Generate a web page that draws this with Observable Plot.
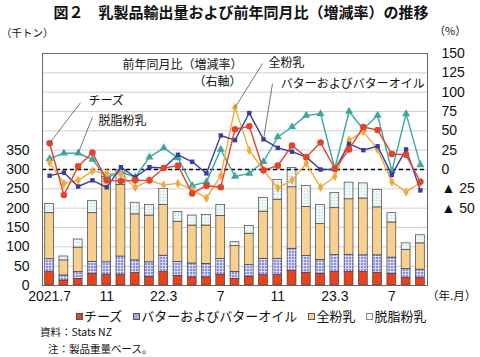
<!DOCTYPE html>
<html lang="ja"><head><meta charset="utf-8">
<script src="https://cdn.jsdelivr.net/npm/d3@7"></script>
<script src="https://cdn.jsdelivr.net/npm/@observablehq/plot@0.6"></script>
<style>
html,body{margin:0;padding:0;background:#fff;}
#wrap{position:relative;width:480px;height:357px;overflow:hidden;font-family:"Noto Sans CJK JP","Noto Sans",sans-serif;color:#111;}
.abs{position:absolute;white-space:nowrap;}
#title{left:0;width:482px;top:3px;text-align:center;font-weight:bold;font-size:15px;line-height:18px;}
#unitL{left:1px;top:26px;font-size:10.5px;line-height:14px;}
#unitR{left:434px;top:23px;font-size:11px;line-height:14px;}
#chart{left:0;top:22px;}
#ym{left:427px;top:288px;font-size:11.5px;line-height:14px;}
#legend{left:76px;top:307px;font-size:13px;line-height:18px;display:flex;align-items:center;}
.item{display:flex;align-items:center;margin-right:11px;}
.sw{display:inline-block;width:5px;height:5px;border:1px solid #555;margin-right:1px;}
#note1{left:40px;top:325px;font-size:10.5px;line-height:14px;}
#note2{left:48px;top:342px;font-size:10.5px;line-height:14px;}
</style>
</head><body>
<div id="wrap">
  <div id="title" class="abs">図２　乳製品輸出量および前年同月比（増減率）の推移</div>
  <div id="unitL" class="abs">（千トン）</div>
  <div id="unitR" class="abs">（%）</div>
  <div id="chart" class="abs"></div>
  <div id="ym" class="abs">（年.月）</div>
  <div id="legend" class="abs">
    <span class="item"><span class="sw" style="background:#e8431d"></span>チーズ</span>
    <span class="item"><span class="sw" style="background:#a3a7e8"></span>バターおよびバターオイル</span>
    <span class="item"><span class="sw" style="background:#f7d08f"></span>全粉乳</span>
    <span class="item"><span class="sw" style="background:#eef8f8;border-color:#888"></span>脱脂粉乳</span>
  </div>
  <div id="note1" class="abs">資料：Stats NZ</div>
  <div id="note2" class="abs">注：製品重量ベース。</div>
</div>
<script>
// ---- data ----
const months = ["2021.7","2021.8","2021.9","2021.10","2021.11","2021.12",
  "2022.1","2022.2","2022.3","2022.4","2022.5","2022.6","2022.7","2022.8","2022.9","2022.10","2022.11","2022.12",
  "2023.1","2023.2","2023.3","2023.4","2023.5","2023.6","2023.7","2023.8","2023.9"];
const tickMonths = ["2021.7","2021.11","2022.3","2022.7","2022.11","2023.3","2023.7"];
const xTickLabels = ["2021.7","11","22.3","7","11","23.3","7"];

// export volume (thousand tonnes)
const cheese = [35,13,17,30,28,28,32,22,35,25,21,21,28,17,23,27,27,38,33,30,35,35,35,33,30,20,20];
const butter = [33,13,18,31,32,47,33,38,42,36,36,35,41,18,30,42,42,57,43,36,44,44,43,45,42,23,21];
const wmp    = [119,39,63,126,220,185,119,121,131,104,98,99,111,67,81,122,153,159,127,93,121,144,147,124,91,49,68];
const smp    = [24,10,21,31,8,38,30,27,42,25,26,27,28,10,20,35,51,50,54,49,39,43,39,45,24,17,21];

// year-on-year change (%), right axis
const cheeseYoY = [34,-33,4,22,-14,-15,-14,-14,2,5,-31,-21,-23,52,56,-1,5,31,16,35,1,26,55,51,20,19,-16];
const butterYoY = [-8,-4,-22,-14,-23,3,-10,3,2,19,10,-5,44,38,73,39,28,23,16,0,0,33,25,30,-7,26,-27];
const wmpYoY    = [9,-18,-14,-2,-5,-6,-23,-14,-20,-18,-26,-37,-8,80,25,-1,-24,-14,8,-23,-9,38,49,26,-16,-29,-17];
const smpYoY    = [14,21,21,13,-10,-3,-10,16,28,15,-21,-16,26,-9,-5,10,42,55,70,72,1,75,52,70,-2,72,6];

const leftTicks = [0,50,100,150,200,250,300,350];
const rightTickValues = [-50,-25,0,25,50,75,100,125,150];
const rightTickLabels = ["▲ 50","▲ 25","0","25","50","75","100","125","150"];

// ---- chart ----
const idx = months.map((m, i) => i);
const toL = v => 300 + 2 * v;        // right-axis % -> left-axis units
const gridVals = d3.range(50, 600, 50);

const stackSeries = [
  {vals: cheese, fill: "#e8431d"},
  {vals: butter, fill: "url(#butterPat)"},
  {vals: wmp,    fill: "#f7d08f"},
  {vals: smp,    fill: "url(#smpPat)"}
];
const base = idx.map(() => 0);
const barMarks = stackSeries.map(s => {
  const rows = idx.map(i => ({i, y1: base[i], y2: base[i] + s.vals[i]}));
  rows.forEach(r => { base[r.i] = r.y2; });
  return Plot.rect(rows, {x1: d => d.i - 0.31, x2: d => d.i + 0.31, y1: "y1", y2: "y2",
    fill: s.fill, stroke: "#404040", strokeWidth: 0.7});
});

const lineSeries = [
  {vals: smpYoY,    color: "#3aa8a2", symbol: "triangle", r: 3.0},
  {vals: wmpYoY,    color: "#f2a93c", symbol: "diamond",  r: 2.9},
  {vals: butterYoY, color: "#393e9e", symbol: "square",   r: 2.5},
  {vals: cheeseYoY, color: "#e2432b", symbol: "circle",   r: 3.3}
];
const lineMarks = lineSeries.flatMap(s => [
  Plot.line(idx, {x: i => i, y: i => toL(s.vals[i]), stroke: s.color, strokeWidth: 1.4}),
  Plot.dot(idx, {x: i => i, y: i => toL(s.vals[i]), fill: s.color, symbol: s.symbol, r: s.r, stroke: "none"})
]);

const jp = "'Noto Sans CJK JP', sans-serif";
const annotations = [
  {text: "前年同月比（増減率）", x: 9.32, y: 569, anchor: "middle"},
  {text: "（右軸）", x: 11.77, y: 527, anchor: "middle"},
  {text: "チーズ", x: 2.72, y: 476, anchor: "start"},
  {text: "脱脂粉乳", x: 3.43, y: 424, anchor: "start"},
  {text: "全粉乳", x: 15.35, y: 574, anchor: "start"},
  {text: "バターおよびバターオイル", x: 16.2, y: 522, anchor: "start"}
];
const leaders = [
  {x1: 2.17, y1: 473, x2: 0,  y2: toL(cheeseYoY[0])},
  {x1: 3.0,  y1: 435, x2: 2,  y2: toL(smpYoY[2])},
  {x1: 14.93, y1: 574, x2: 13, y2: toL(wmpYoY[13])},
  {x1: 15.63, y1: 522, x2: 15, y2: toL(butterYoY[15])}
];

const svg = Plot.plot({
  width: 480, height: 286,
  marginTop: 31, marginBottom: 23, marginLeft: 42, marginRight: 53,
  x: {type: "linear", domain: [-0.5, months.length - 0.5], axis: null},
  y: {domain: [0, 600], axis: null},
  style: {fontFamily: "'Liberation Sans', Arial, sans-serif", fontSize: "14px", background: "transparent", color: "#111", overflow: "visible"},
  marks: [
    Plot.ruleY(gridVals, {stroke: "#c4c4c4", strokeWidth: 0.8}),
    ...barMarks,
    Plot.ruleY([toL(0)], {stroke: "#000", strokeWidth: 1.3, strokeDasharray: "4,3"}),
    ...lineMarks,
    Plot.link(leaders, {x1: "x1", y1: "y1", x2: "x2", y2: "y2", stroke: "#555", strokeWidth: 0.8}),
    ...annotations.map(a => Plot.text([a], {x: "x", y: "y", text: "text", textAnchor: a.anchor, fontFamily: jp, fontSize: 12, fill: "#111"})),
    Plot.frame({stroke: "#666", strokeWidth: 1}),
    Plot.text(leftTicks, {y: d => d, text: d => String(d), frameAnchor: "left", textAnchor: "end", dx: -13, fontSize: 14}),
    Plot.text(rightTickValues, {y: d => toL(d), text: (d, i) => rightTickLabels[i], frameAnchor: "right", textAnchor: "start", dx: 14, fontSize: 14}),
    Plot.text(tickMonths, {x: m => months.indexOf(m), text: (m, i) => xTickLabels[i], frameAnchor: "bottom", dy: 15, fontSize: 14})
  ]
});

d3.select(svg).insert("defs", ":first-child").html(`
  <pattern id="butterPat" width="3" height="3" patternUnits="userSpaceOnUse">
    <rect width="3" height="3" fill="#8a8fe2"/>
    <rect x="0" y="0" width="3" height="0.8" fill="#e4e5fa"/>
    <rect x="0" y="0" width="0.8" height="3" fill="#e4e5fa"/>
  </pattern>
  <pattern id="smpPat" width="3" height="3" patternUnits="userSpaceOnUse">
    <rect width="3" height="3" fill="#eef8f9"/>
    <circle cx="1.5" cy="1.5" r="0.55" fill="#a6d3dc"/>
  </pattern>`);

document.getElementById("chart").appendChild(svg);
</script>
</body></html>
